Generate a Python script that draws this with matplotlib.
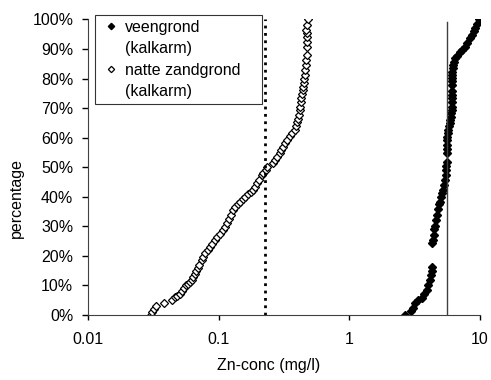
import matplotlib
matplotlib.use('Agg')
import matplotlib.pyplot as plt
from matplotlib.lines import Line2D

# veengrond (kalkarm) - Zn concentration (mg/l) and cumulative percentage
veen_x = [2.67, 2.98, 3.05, 3.18, 3.35, 3.59, 3.75, 3.92, 4.03, 4.15, 4.22, 4.28, 4.33,
          4.33, 4.37, 4.42, 4.47, 4.5, 4.6, 4.7, 4.8, 4.9, 4.95, 5.05, 5.15, 5.25, 5.33,
          5.41, 5.46, 5.5, 5.55, 5.57, 5.57, 5.57, 5.57, 5.57, 5.62, 5.68, 5.74, 5.8,
          5.86, 5.91, 5.97, 6.03, 6.09, 6.09, 6.09, 6.09, 6.09, 6.09, 6.09, 6.09, 6.09,
          6.09, 6.15, 6.2, 6.27, 6.36, 6.46, 6.7, 7.05, 7.35, 7.69, 8.0, 8.41, 8.7, 9.0,
          9.18, 9.5, 9.9]
veen_y = [0, 1.5, 2.5, 4, 5, 5.7, 7, 8.5, 10, 11.8, 13.5, 15, 16.3,
          24.2, 25.4, 27, 29, 30, 32, 34, 36, 37.5, 38.3, 40, 41.3, 42.3, 44,
          45.7, 47.3, 49, 50.5, 51.8, 54.7, 56, 57.5, 59.2, 60.3, 61.5, 62.6, 64,
          65, 65.9, 67, 68.2, 69.3, 70.5, 72.1, 73.3, 74.5, 75.8, 77.8, 79, 80.1,
          81.2, 82.3, 83.5, 84.5, 85.7, 86.8, 87.6, 89, 89.8, 90.7, 92, 93.6, 94.8, 96,
          97, 98.5, 100]

# natte zandgrond (kalkarm)
zand_x = [0.030, 0.031, 0.032, 0.033, 0.038, 0.044, 0.046, 0.048, 0.050, 0.052, 0.054,
          0.056, 0.058, 0.060, 0.062, 0.064, 0.066, 0.067, 0.069, 0.071, 0.074, 0.076,
          0.079, 0.082, 0.085, 0.089, 0.093, 0.097, 0.102, 0.108, 0.112, 0.116, 0.120,
          0.124, 0.129, 0.134, 0.140, 0.146, 0.153, 0.160, 0.168, 0.175, 0.182, 0.190,
          0.197, 0.204, 0.213, 0.220, 0.228, 0.236, 0.262, 0.270, 0.280, 0.292, 0.300,
          0.310, 0.320, 0.334, 0.350, 0.366, 0.383, 0.392, 0.400, 0.406, 0.412, 0.418,
          0.422, 0.426, 0.430, 0.434, 0.438, 0.443, 0.447, 0.451, 0.455, 0.459, 0.463,
          0.468, 0.471, 0.474, 0.474, 0.474, 0.470, 0.468, 0.474, 0.480]
zand_y = [0, 1, 2, 3, 4, 5, 6, 6.5, 7, 8, 9,
          10, 10.5, 11, 12, 13, 14, 15, 16, 17, 18.6, 19.5,
          21, 22, 23, 24, 25.4, 26.5, 27.5, 28.7, 29.7, 31, 32.5,
          34, 35.5, 36.5, 37.5, 38.3, 39.2, 40, 40.8, 41.5, 42.3, 43.4,
          44.5, 45.8, 47.3, 48.2, 49.2, 50.2, 51.3, 52.3, 53.4, 54.7, 55.8,
          57, 58.1, 59.3, 60.4, 61.4, 62.6, 64, 65.2, 66.2, 67.5, 69.3,
          70.5, 72, 73.3, 74.6, 76, 77.2, 78.5, 79.8, 81.2, 82.8, 84.5,
          86.3, 88, 90.8, 92.5, 94.2, 95.5, 96.4, 98, 100]

zand_norm = 0.226
veen_norm = 5.6

plt.rcParams['font.family'] = ['Liberation Sans', 'DejaVu Sans']
plt.rcParams['font.size'] = 11.5

fig = plt.figure(figsize=(4.91, 3.80), dpi=100)
ax = fig.add_axes([0.1798, 0.171, 0.7974, 0.778])

ax.plot(veen_x, veen_y, linestyle='none', marker='D', markersize=3.8,
        color='black', markerfacecolor='black')
ax.plot(zand_x, zand_y, linestyle='none', marker='D', markersize=3.8,
        color='black', markerfacecolor='white', markeredgewidth=0.9)
ax.plot([zand_norm, zand_norm], [0, 100], linestyle=':', color='black', linewidth=2)
ax.plot([veen_norm, veen_norm], [0, 99], linestyle='-', color='#404040', linewidth=1)

ax.set_xscale('log')
ax.set_xlim(0.01, 10)
ax.set_ylim(0, 100)
ax.set_xticks([0.01, 0.1, 1, 10])
ax.set_xticklabels(['0.01', '0.1', '1', '10'])
ax.minorticks_off()
ax.set_yticks(range(0, 101, 10))
ax.set_yticklabels(['%d%%' % v for v in range(0, 101, 10)])
ax.tick_params(axis='x', direction='out', length=3.6, width=1, pad=8.5)
ax.tick_params(axis='y', direction='out', length=4.3, width=1, pad=6.5)

ax.spines['top'].set_visible(False)
ax.spines['right'].set_visible(False)
ax.spines['left'].set_color('#404040')
ax.spines['bottom'].set_color('#404040')

ax.set_xlabel('Zn-conc (mg/l)')
ax.set_ylabel('percentage')
ax.xaxis.set_label_coords(0.4616, -0.145)
ax.yaxis.set_label_coords(-0.164, 0.397)

# legend: marker on the first line of each two-line entry
h_veen = Line2D([], [], linestyle='none', marker='D', markersize=3.2,
                color='black', markerfacecolor='black')
h_zand = Line2D([], [], linestyle='none', marker='D', markersize=3.2,
                color='black', markerfacecolor='white', markeredgewidth=0.9)
h_none = Line2D([], [], linestyle='none')
leg = ax.legend([h_veen, h_none, h_zand, h_none],
                ['veengrond', '(kalkarm)', 'natte zandgrond', '(kalkarm)'],
                loc='upper left', bbox_to_anchor=(0.0171, 1.0145, 0.4266, 0.0),
                mode='expand', frameon=True, fancybox=False, edgecolor='black',
                handlelength=1.4, handletextpad=0.2, borderpad=0.3,
                labelspacing=0.4, borderaxespad=0.0)
leg.get_frame().set_linewidth(0.8)

fig.patch.set_facecolor('white')
plt.savefig('out.png', dpi=100)
